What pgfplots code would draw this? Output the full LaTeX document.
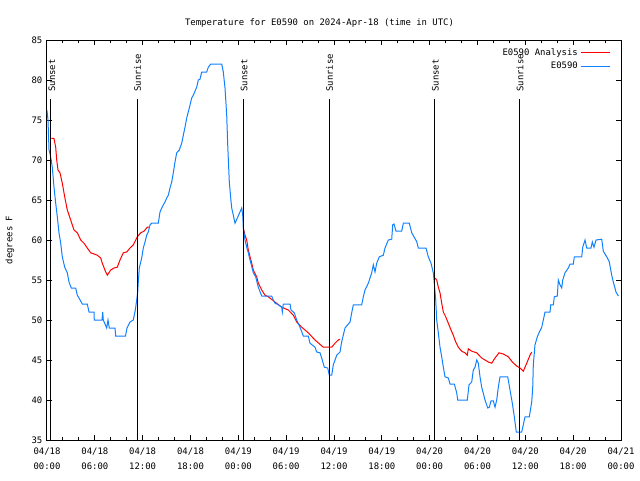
\documentclass[border=0pt]{standalone}
\usepackage{pgfplots}
\pgfplotsset{compat=1.18}
\usepackage{fontspec}
\setmainfont{DejaVu Sans Mono}
\definecolor{obsblue}{RGB}{16,128,255}
\newcommand{\gfont}{\fontsize{6.7}{9.75}\selectfont}
\newcommand{\xfont}{\fontsize{6.7}{11.25}\selectfont}
\begin{document}
\begin{tikzpicture}
\useasboundingbox (-35.25pt,-30pt) rectangle (444.75pt,330pt);
\begin{axis}[
  scale only axis, width=430.5pt, height=300pt,
  xmin=0, xmax=72, ymin=35, ymax=85,
  xtick={0,6,...,72},
  xticklabels={04/18\\00:00,04/18\\06:00,04/18\\12:00,04/18\\18:00,04/19\\00:00,04/19\\06:00,04/19\\12:00,04/19\\18:00,04/20\\00:00,04/20\\06:00,04/20\\12:00,04/20\\18:00,04/21\\00:00},
  minor x tick num=2,
  ytick={35,40,...,85},
  tick align=inside,
  major tick length=3.75pt, minor tick length=2.5pt,
  axis line style={line width=0.75pt},
  tick style={line width=0.75pt, black},
  /pgf/number format/assume math mode=true,
  ticklabel style={font=\gfont},
  xticklabel style={align=center, font=\xfont, yshift=-2pt},
  unbounded coords=jump,
  legend style={draw=none, fill=none, font=\gfont, at={(rel axis cs:0.984,0.99)}, anchor=north east, row sep=-0.4pt, inner sep=1pt},
  legend cell align=right,
  legend plot pos=right,
  legend image code/.code={\draw[#1] (0pt,0pt) -- (21.5pt,0pt);},
]
\addplot[red, line width=0.75pt] coordinates {
(0.539,72.7) (0.878,72.7) (1.091,71.6) (1.217,70) (1.380,68.75) (1.631,68.4) (1.919,67.1) (2.220,65.4) (2.546,63.75) (2.973,62.5) (3.387,61.25) (3.801,60.9) (4.227,60) (4.641,59.6) (5.055,59) (5.482,58.4) (6.310,58.1) (6.736,57.75) (6.937,57.1) (7.363,56) (7.564,55.6) (7.991,56.25) (8.404,56.5) (8.818,56.6) (9.157,57.5) (9.571,58.4) (9.998,58.5) (10.412,59) (10.825,59.4) (11.327,60.4) (11.754,60.9) (12.168,61.1) (12.582,61.6) (12.795,61.6)
(13,nan)
(24.624,61.5) (24.837,60.6) (25.050,60) (25.251,58.75) (25.464,57.9) (25.678,57.1) (25.878,56.25) (26.305,55.4) (26.505,54.6) (26.932,53.75) (27.346,53.1) (27.760,52.9) (28.600,52.25) (29.441,51.6) (30.269,51.25) (30.896,50.6) (31.322,49.75) (31.950,49.1) (32.777,48.4) (33.618,47.5) (34.659,46.6) (35.713,46.6) (36.127,47.1) (36.541,47.5) (36.754,47.6)
(37,nan)
(48.671,55.25) (48.885,55) (49.085,54.1) (49.298,53.4) (49.512,52.1) (49.712,51) (50.013,50.4) (50.339,49.6) (50.678,48.75) (50.966,48.1) (51.267,47.25) (51.593,46.6) (52.020,46.1) (52.434,45.9) (52.722,45.6) (52.848,46.4) (53.274,46.1) (53.901,45.9) (54.529,45.25) (54.943,45) (55.357,44.75) (55.784,44.6) (56.197,45.25) (56.699,45.9) (57.239,45.75) (57.866,45.4) (58.367,44.75) (58.919,44.25) (59.333,44) (59.747,43.6) (60.173,44.6) (60.587,45.6) (60.800,46)
};
\addlegendentry{E0590 Analysis}
\addplot[obsblue, line width=0.75pt] coordinates {
(0,76.2) (0.125,75) (0.251,71.3) (0.439,70.5) (0.665,69.1) (0.878,66.6) (1.091,64.6) (1.292,62.9) (1.505,60.9) (1.719,59.6) (1.919,57.9) (2.220,56.6) (2.546,55.9) (2.760,54.75) (3.048,54) (3.600,54) (3.801,53.1) (4.014,52.75) (4.428,52) (5.055,52) (5.268,51) (5.896,51) (5.933,50) (6.899,50) (6.987,51) (7.062,50) (7.489,49) (7.652,50) (7.815,49) (8.530,49) (8.618,48) (9.847,48) (10.035,49) (10.412,49.75) (10.825,50) (11.076,51.25) (11.252,52.5) (11.378,53.5) (11.453,54.8) (11.578,56.5) (11.879,57.75) (12.080,59) (12.293,59.75) (12.506,60.6) (12.707,61) (12.920,61.9) (13.134,62.1) (13.962,62.1) (14.175,63.5) (14.388,64) (14.589,64.4) (14.802,64.75) (15.015,65.25) (15.216,65.6) (15.429,66.5) (15.642,67.25) (15.843,68.4) (16.056,69.75) (16.270,70.9) (16.596,71.25) (16.897,72.1) (17.098,73.1) (17.311,74.1) (17.524,75.25) (17.850,76.5) (18.151,77.75) (18.352,78.1) (18.778,79.1) (18.979,80) (19.192,80.1) (19.406,81) (20.033,81) (20.234,81.6) (20.535,82) (21.915,82) (22.115,81) (22.328,79) (22.542,75.6) (22.667,71.9) (22.868,67.25) (23.044,65.25) (23.169,64) (23.370,63.1) (23.583,62.1) (23.871,62.75) (24.210,63.5) (24.423,64) (24.549,63.1) (24.624,61.5) (24.837,60) (25.050,59.1) (25.251,58.4) (25.464,57.5) (25.678,56.7) (25.878,55.9) (26.179,55.4) (26.505,54.1) (26.932,53) (28.186,53) (28.387,52.5) (28.600,52.1) (29.014,51.9) (29.441,51.6) (29.516,51) (29.641,52) (30.482,52) (30.607,51.25) (31.021,50.9) (31.322,50) (31.736,49.1) (32.150,48) (32.777,48) (32.991,47.1) (33.618,46.6) (33.831,46) (34.245,45.9) (34.533,45) (34.784,44.1) (35.211,44) (35.412,43.1) (35.713,43.1) (35.914,44.4) (36.340,45.6) (36.754,46) (36.968,47.3) (37.382,49) (38.009,49.75) (38.222,50.9) (38.423,51.9) (39.477,51.9) (39.677,52.9) (39.890,53.75) (40.304,54.6) (40.731,55.9) (40.931,56.9) (41.144,56) (41.358,57.1) (41.684,57.9) (42.186,58.1) (42.399,59) (42.813,60) (43.240,60.1) (43.365,61.9) (43.528,62) (43.779,61.1) (44.494,61.1) (44.695,62.1) (45.447,62.1) (45.749,60.9) (46.376,59.8) (46.576,59) (47.542,59) (47.831,57.9) (48.169,57.1) (48.458,55.9) (48.583,54.6) (48.759,52.5) (48.885,50) (49.085,48.4) (49.298,46.6) (49.512,45.4) (49.712,44.1) (49.925,42.9) (50.339,42.75) (50.552,42) (51.092,42) (51.393,40.9) (51.518,40) (52.722,40) (52.935,41.9) (53.274,42.25) (53.475,43.75) (53.688,44.1) (53.901,45) (54.102,44.6) (54.316,42.9) (54.529,41.6) (54.943,40) (55.282,39) (55.482,39.1) (55.695,39.9) (55.984,39.9) (56.197,39.1) (56.410,40) (56.611,41.6) (56.824,42.9) (57.790,42.9) (58.079,41.25) (58.367,39.6) (58.618,37.9) (58.869,36) (59.546,36) (59.747,36.9) (59.960,37.9) (60.499,37.9) (60.800,39.75) (60.926,41.5) (61.001,44.4) (61.214,46.9) (61.503,47.9) (61.754,48.5) (62.055,49.1) (62.256,50) (62.469,51) (63.096,51) (63.184,51.9) (63.510,51.9) (63.636,52.9) (64.012,53) (64.137,55) (64.351,54.4) (64.564,54) (64.689,55) (64.978,55.9) (65.392,56.5) (65.605,57) (66.019,57) (66.145,57.9) (67.073,57.9) (67.198,59.1) (67.487,60) (67.700,59) (68.239,59) (68.402,59.75) (68.616,59.1) (68.867,60) (69.582,60.1) (69.782,58.6) (70.209,57.9) (70.535,57.25) (70.836,55.6) (71.036,54.75) (71.375,53.5) (71.664,53)
};
\addlegendentry{E0590}
% sunrise / sunset markers
\addplot[black, line width=0.75pt, forget plot] coordinates {(0.50,35) (0.50,77.6)};
\addplot[black, line width=0.75pt, forget plot] coordinates {(11.35,35) (11.35,77.6)};
\addplot[black, line width=0.75pt, forget plot] coordinates {(24.62,35) (24.62,77.6)};
\addplot[black, line width=0.75pt, forget plot] coordinates {(35.44,35) (35.44,77.6)};
\addplot[black, line width=0.75pt, forget plot] coordinates {(48.58,35) (48.58,77.6)};
\addplot[black, line width=0.75pt, forget plot] coordinates {(59.33,35) (59.33,77.6)};
\node[rotate=90, anchor=west, font=\gfont, inner sep=0pt] at (axis cs:0.62,78.5) {Sunset};
\node[rotate=90, anchor=west, font=\gfont, inner sep=0pt] at (axis cs:11.35,78.5) {Sunrise};
\node[rotate=90, anchor=west, font=\gfont, inner sep=0pt] at (axis cs:24.74,78.5) {Sunset};
\node[rotate=90, anchor=west, font=\gfont, inner sep=0pt] at (axis cs:35.44,78.5) {Sunrise};
\node[rotate=90, anchor=west, font=\gfont, inner sep=0pt] at (axis cs:48.70,78.5) {Sunset};
\node[rotate=90, anchor=west, font=\gfont, inner sep=0pt] at (axis cs:59.33,78.5) {Sunrise};
\end{axis}
\node[anchor=base, font=\gfont] at (204.4pt,310.9pt) {Temperature for E0590 on 2024-Apr-18 (time in UTC)};
\node[rotate=90, font=\gfont] at (-27.75pt,150pt) {degrees F};
\end{tikzpicture}
\end{document}
